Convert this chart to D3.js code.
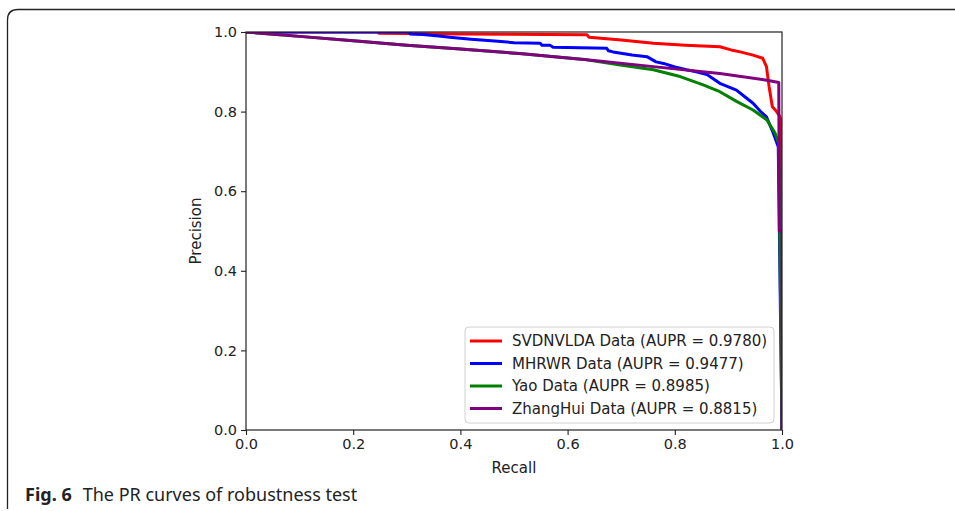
<!DOCTYPE html>
<html>
<head>
<meta charset="utf-8">
<script src="https://cdn.jsdelivr.net/npm/d3@7"></script>
<style>
  body { margin: 0; background: #fff; }
  svg { display: block; }
</style>
</head>
<body>
<svg id="chart" width="955" height="511"></svg>
<script>
// PR curves as [recall, precision]
const svdnvlda = [
  [0, 1], [0.248, 1], [0.248, 0.997], [0.40, 0.995], [0.636, 0.993], [0.640, 0.987],
  [0.70, 0.980], [0.76, 0.972], [0.82, 0.967], [0.884, 0.963], [0.905, 0.955],
  [0.922, 0.950], [0.946, 0.942], [0.964, 0.934], [0.971, 0.913], [0.976, 0.862],
  [0.982, 0.812], [0.990, 0.800], [0.995, 0.790], [0.998, 0.780], [1.0, 0.0]
];
const mhrwr = [
  [0, 1], [0.306, 1], [0.306, 0.995], [0.33, 0.994], [0.36, 0.990], [0.38, 0.987],
  [0.42, 0.982], [0.47, 0.977], [0.50, 0.973], [0.549, 0.9715], [0.552, 0.967],
  [0.567, 0.967], [0.573, 0.9615], [0.673, 0.959], [0.676, 0.953], [0.685, 0.950],
  [0.72, 0.942], [0.748, 0.938], [0.765, 0.925], [0.779, 0.921], [0.80, 0.912],
  [0.822, 0.905], [0.84, 0.900], [0.86, 0.893], [0.884, 0.871], [0.915, 0.854],
  [0.93, 0.838], [0.946, 0.821], [0.96, 0.800], [0.971, 0.787], [0.984, 0.745],
  [0.993, 0.712], [1.0, 0.0]
];
const yao = [
  [0, 1], [0.1, 0.989], [0.2, 0.978], [0.3, 0.967], [0.4, 0.957], [0.51, 0.946],
  [0.636, 0.930], [0.698, 0.917], [0.76, 0.905], [0.81, 0.888], [0.853, 0.867],
  [0.884, 0.850], [0.916, 0.825], [0.946, 0.804], [0.972, 0.779], [0.987, 0.746],
  [0.994, 0.720], [1.0, 0.0]
];
const zhanghui = [
  [0, 1], [0.1, 0.989], [0.2, 0.978], [0.3, 0.967], [0.4, 0.957], [0.51, 0.946],
  [0.636, 0.930], [0.76, 0.913], [0.884, 0.896], [0.972, 0.879], [0.994, 0.873],
  [0.995, 0.50], [1.0, 0.50], [1.0, 0.0]
];

const seriesNames = ['SVDNVLDA Data (AUPR = 0.9780)', 'MHRWR Data (AUPR = 0.9477)',
  'Yao Data (AUPR = 0.8985)', 'ZhangHui Data (AUPR = 0.8815)'];
const seriesColors = ['#ff0000', '#0000ff', '#008000', '#800080'];
const seriesData = [svdnvlda, mhrwr, yao, zhanghui];
const tickValues = [0, 0.2, 0.4, 0.6, 0.8, 1.0];

const svg = d3.select('#chart');
const font = 'DejaVu Sans, sans-serif';

// outer figure frame with rounded top-left corner
svg.append('path')
  .attr('d', 'M7.5,509 L7.5,20 Q7.5,9.5 18,9.5 L955,9.5')
  .attr('fill', 'none')
  .attr('stroke', '#222')
  .attr('stroke-width', 1.3);

const margin = { left: 246, top: 32, right: 955 - 782, bottom: 511 - 430 };
const width = 955 - margin.left - margin.right;
const height = 511 - margin.top - margin.bottom;

const g = svg.append('g')
  .attr('transform', 'translate(' + margin.left + ',' + margin.top + ')');

const x = d3.scaleLinear().domain([0, 1]).range([0, width]);
const y = d3.scaleLinear().domain([0, 1]).range([height, 0]);

g.append('clipPath').attr('id', 'plot-clip')
  .append('rect').attr('width', width).attr('height', height);

const line = d3.line()
  .x(d => x(d[0]))
  .y(d => y(d[1]));

g.append('g').attr('clip-path', 'url(#plot-clip)')
  .selectAll('path')
  .data(seriesData)
  .join('path')
  .attr('fill', 'none')
  .attr('stroke', (d, i) => seriesColors[i])
  .attr('stroke-width', 3)
  .attr('stroke-linejoin', 'round')
  .attr('d', line);

// axes
const xAxis = g.append('g')
  .attr('transform', 'translate(0,' + height + ')')
  .call(d3.axisBottom(x).tickValues(tickValues).tickFormat(d3.format('.1f')).tickSizeOuter(0).tickSize(5).tickPadding(4));
const yAxis = g.append('g')
  .call(d3.axisLeft(y).tickValues(tickValues).tickFormat(d3.format('.1f')).tickSizeOuter(0).tickSize(5).tickPadding(4));

[xAxis, yAxis].forEach(a => {
  a.selectAll('text').attr('font-family', font).attr('font-size', 14.5).attr('fill', '#222');
  a.selectAll('line').attr('stroke', '#222').attr('stroke-width', 1.1);
  a.select('.domain').remove();
});

// spines
g.append('rect')
  .attr('width', width).attr('height', height)
  .attr('fill', 'none').attr('stroke', '#222').attr('stroke-width', 1.2);

g.append('text')
  .attr('x', width / 2).attr('y', height + 43)
  .attr('text-anchor', 'middle')
  .attr('font-family', font).attr('font-size', 15).attr('fill', '#222')
  .text('Recall');
g.append('text')
  .attr('transform', 'translate(-45,' + (height / 2) + ') rotate(-90)')
  .attr('text-anchor', 'middle')
  .attr('font-family', font).attr('font-size', 15).attr('fill', '#222')
  .text('Precision');

// legend
const legend = g.append('g').attr('transform', 'translate(' + (465 - margin.left) + ',' + (327 - margin.top) + ')');
legend.append('rect')
  .attr('width', 309).attr('height', 96).attr('rx', 4)
  .attr('fill', 'rgba(255,255,255,0.85)').attr('stroke', '#d0d0d0').attr('stroke-width', 1);
const items = legend.selectAll('g.item')
  .data(seriesNames)
  .join('g')
  .attr('class', 'item')
  .attr('transform', (d, i) => 'translate(0,' + (14 + i * 22.5) + ')');
items.append('line')
  .attr('x1', 5).attr('x2', 37)
  .attr('stroke', (d, i) => seriesColors[i]).attr('stroke-width', 3);
items.append('text')
  .attr('x', 47).attr('dy', '0.35em')
  .attr('font-family', font).attr('font-size', 15).attr('fill', '#222')
  .text(d => d);

// caption
const caption = svg.append('text')
  .attr('x', 25).attr('y', 501)
  .attr('font-family', 'Noto Sans, Open Sans, sans-serif').attr('font-size', 18).attr('fill', '#222');
caption.append('tspan').attr('font-weight', 'bold').text('Fig. 6');
caption.append('tspan').attr('dx', 11).text('The PR curves of robustness test');
</script>
</body>
</html>
